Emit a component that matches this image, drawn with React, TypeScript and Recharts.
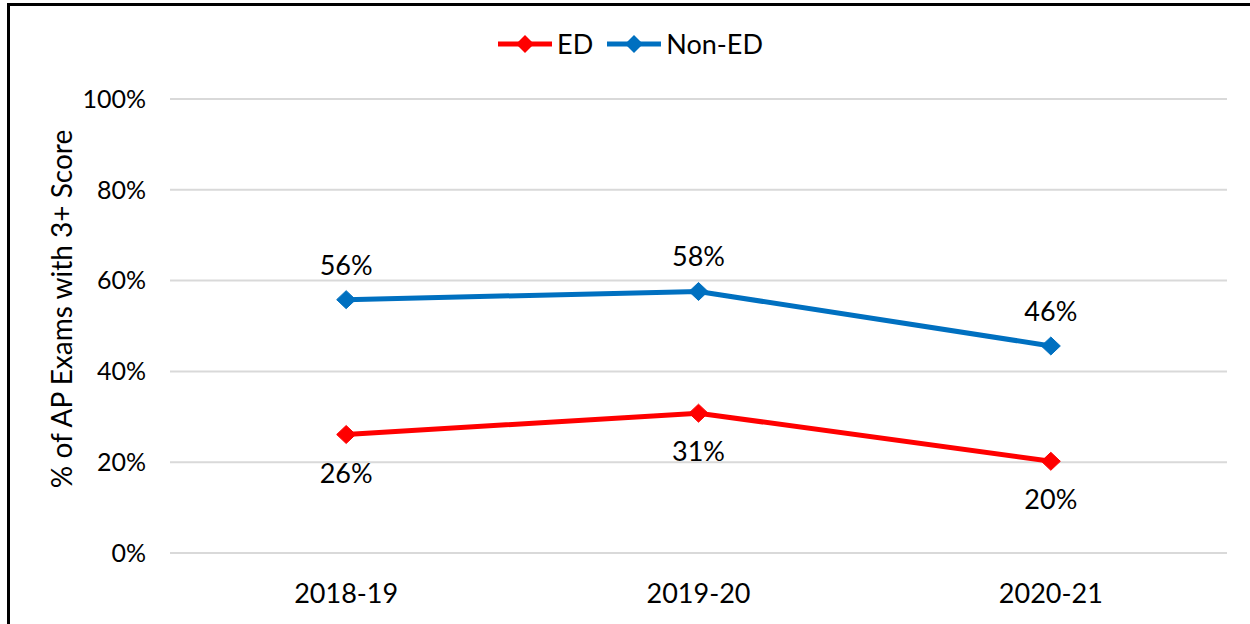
import React from 'react';
import { LineChart, Line, XAxis, YAxis, CartesianGrid, Legend, LabelList } from 'recharts';

const categories = ['2018-19', '2019-20', '2020-21'];
const edValues = [26.1, 30.8, 20.2];
const nonEdValues = [55.8, 57.6, 45.6];
const yTicks = [0, 20, 40, 60, 80, 100];

const data = categories.map((c, i) => ({ year: c, ED: edValues[i], NonED: nonEdValues[i] }));

const FONT = 'Lato, "Open Sans", sans-serif';
const RED = '#FF0000';
const BLUE = '#0070C0';

const Diamond = (color: string) => (props: any) => {
  const { cx, cy, index } = props;
  if (cx == null || cy == null) return <g key={index} />;
  const rx = 9.5;
  const ry = 9;
  return (
    <polygon
      key={index}
      points={`${cx},${cy - ry} ${cx + rx},${cy} ${cx},${cy + ry} ${cx - rx},${cy}`}
      fill={color}
      stroke={color}
    />
  );
};

const LegendIcon = ({ color }: { color: string }) => (
  <svg width={54} height={20} style={{ verticalAlign: 'middle', marginRight: 5 }}>
    <line x1={0} y1={10} x2={54} y2={10} stroke={color} strokeWidth={5} />
    <polygon points="27,1 36,10 27,19 18,10" fill={color} />
  </svg>
);

const renderLegend = () => (
  <div style={{ display: 'flex', justifyContent: 'center', gap: 14, fontFamily: FONT, fontSize: 27, color: '#000', lineHeight: '30px', paddingLeft: 34 }}>
    <span style={{ display: 'flex', alignItems: 'center' }}>
      <LegendIcon color={RED} />
      <span>ED</span>
    </span>
    <span style={{ display: 'flex', alignItems: 'center' }}>
      <LegendIcon color={BLUE} />
      <span>Non-ED</span>
    </span>
  </div>
);

const pct = (v: any) => `${Math.round(Number(v))}%`;

const YTitle = (props: any) => {
  const vb = props.viewBox || {};
  const cx = vb.x + 61;
  const cy = vb.y + vb.height / 2 - 17;
  return (
    <text
      x={cx}
      y={cy}
      transform={`rotate(-90, ${cx}, ${cy})`}
      textAnchor="middle"
      dominantBaseline="central"
      fill="#000"
      fontSize={28}
      fontFamily={FONT}
    >
      % of AP Exams with 3+ Score
    </text>
  );
};

export default function App() {
  return (
    <div style={{ position: 'absolute', left: 0, top: 0, width: 1250, height: 624, background: '#fff', overflow: 'hidden' }}>
      <div style={{ position: 'absolute', left: 7, top: 3, width: 1300, height: 700, borderLeft: '3px solid #000', borderTop: '3px solid #000', boxSizing: 'border-box' }} />
      <LineChart width={1250} height={624} data={data} margin={{ top: 69, right: 23, bottom: 0, left: 0 }}>
        <CartesianGrid vertical={false} stroke="#D9D9D9" strokeWidth={2} />
        <XAxis
          dataKey="year"
          scale="band"
          height={71}
          axisLine={false}
          tickLine={false}
          tick={{ fill: '#000', fontSize: 27, fontFamily: FONT }}
          tickMargin={25}
        />
        <YAxis
          width={170}
          domain={[0, 100]}
          ticks={yTicks}
          tickFormatter={(v) => `${v}%`}
          axisLine={false}
          tickLine={false}
          tick={{ fill: '#000', fontSize: 25, fontFamily: FONT }}
          tickMargin={18}
          label={<YTitle />}
        />
        <Legend verticalAlign="top" align="center" height={30} content={renderLegend} wrapperStyle={{ top: 29 }} />
        <Line
          dataKey="ED"
          stroke={RED}
          strokeWidth={5}
          dot={Diamond(RED)}
          activeDot={false}
          isAnimationActive={false}
        >
          <LabelList dataKey="ED" position="bottom" offset={29} formatter={pct} style={{ fill: '#000', fontSize: 27, fontFamily: FONT }} />
        </Line>
        <Line
          dataKey="NonED"
          stroke={BLUE}
          strokeWidth={5}
          dot={Diamond(BLUE)}
          activeDot={false}
          isAnimationActive={false}
        >
          <LabelList dataKey="NonED" position="top" offset={25} formatter={pct} style={{ fill: '#000', fontSize: 27, fontFamily: FONT }} />
        </Line>
      </LineChart>
    </div>
  );
}
